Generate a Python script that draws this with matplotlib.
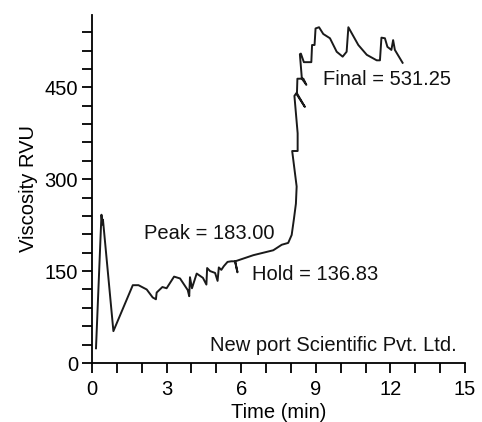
import matplotlib
matplotlib.use("Agg")
import matplotlib.pyplot as plt
from matplotlib.ticker import MultipleLocator

plt.rcParams['font.family'] = ['Liberation Sans', 'DejaVu Sans']

time_min = [0.16, 0.38, 0.42, 0.44, 0.86, 1.64, 1.87, 2.2, 2.44, 2.57, 2.6, 2.83, 3.0,
            3.3, 3.54, 3.85, 3.91, 3.94, 4.02, 4.21, 4.46, 4.6, 4.63, 4.75, 4.95, 5.05,
            5.1, 5.2, 5.3, 5.45, 5.6, 5.75, 5.85, 5.76, 6.49, 7.29, 7.63, 7.89, 8.03,
            8.12, 8.2, 8.23, 8.05, 8.27, 8.27, 8.14, 8.23, 8.56, 8.24, 8.26, 8.5, 8.62,
            8.44, 8.36, 8.40, 8.52, 8.82, 8.85, 8.95, 8.99, 9.13, 9.30, 9.57, 9.84,
            10.08, 10.24, 10.31, 10.71, 11.05, 11.45, 11.58, 11.64, 11.78, 11.88,
            12.04, 12.11, 12.18, 12.49]
viscosity = [24, 242, 226, 234, 52, 127, 127, 120, 107, 104, 115, 124, 122,
             141, 138, 119, 109, 140, 122, 146, 139, 128, 155, 150, 147, 134,
             156, 152, 158, 165, 166, 166, 148, 166, 176, 184, 193, 196, 209,
             235, 260, 288, 346, 346, 375, 436, 441, 418, 438, 464, 464, 454,
             464, 504, 505, 491, 491, 519, 519, 546, 548, 537, 530, 508,
             500, 508, 548, 519, 503, 494, 494, 531, 530, 516,
             511, 527, 511, 490]

x_ticks = [0, 3, 6, 9, 12, 15]
y_ticks = [0, 150, 300, 450]

annotations = [("Final = 531.25", 9.3, 462),
               ("Peak = 183.00", 2.09, 212),
               ("Hold = 136.83", 6.42, 145),
               ("New port Scientific Pvt. Ltd.", 4.74, 29)]

fig = plt.figure(figsize=(4.82, 4.22), dpi=100)
ax = fig.add_axes([0.1909, 0.1398, 0.7738, 0.8247])
ax.plot(time_min, viscosity, color='#1a1a1a', lw=1.4)

ax.set_xlim(0, 15)
ax.set_ylim(0, 568)
ax.set_xticks(x_ticks)
ax.set_yticks(y_ticks)
ax.xaxis.set_minor_locator(MultipleLocator(1))
ax.yaxis.set_minor_locator(MultipleLocator(30))
for s in ['top', 'right']:
    ax.spines[s].set_visible(False)
for s in ['left', 'bottom']:
    ax.spines[s].set_linewidth(1.3)
ax.tick_params(which='both', direction='out', length=7, width=1.3, labelsize=14.5)
ax.tick_params(axis='x', pad=5)
ax.tick_params(axis='y', pad=3)
ax.set_xlabel("Time (min)", fontsize=14.5, labelpad=3)
ax.set_ylabel("Viscosity RVU", fontsize=14.5, labelpad=5)

for txt, x, y in annotations:
    ax.text(x, y, txt, fontsize=14.5, va='center', ha='left', color='#111111')

fig.savefig("out.png", dpi=100)
